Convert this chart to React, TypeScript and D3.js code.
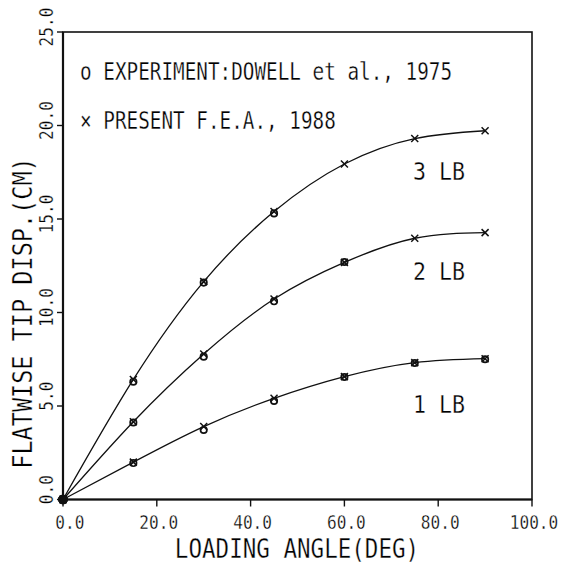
import React from 'react';
import * as d3 from 'd3';

// loading angle (deg) for the F.E.A. curves
const angles = [0, 15, 30, 45, 60, 75, 90];
const fea1lb = [0, 2.0, 3.9, 5.41, 6.57, 7.32, 7.53];
const fea2lb = [0, 4.16, 7.78, 10.72, 12.68, 13.97, 14.27];
const fea3lb = [0, 6.42, 11.65, 15.4, 17.94, 19.3, 19.72];

// experiment (Dowell et al.)
const expAngles1 = [0, 15, 30, 45, 60, 75, 90];
const exp1lb = [0, 1.95, 3.72, 5.27, 6.55, 7.3, 7.5];
const expAngles2 = [0, 15, 30, 45, 60];
const exp2lb = [0, 4.12, 7.64, 10.6, 12.7];
const expAngles3 = [0, 15, 30, 45];
const exp3lb = [0, 6.3, 11.6, 15.3];

const curveLabels = ['1 LB', '2 LB', '3 LB'];
const labelAt = [4.63, 11.74, 17.08]; // y value of the label baseline
const xTicks = [0, 20, 40, 60, 80, 100];
const yTicks = [0, 5, 10, 15, 20, 25];
const legendLines = ['o EXPERIMENT:DOWELL et al., 1975', '\u00d7 PRESENT F.E.A., 1988'];

const FONT = '"DejaVu Sans Mono", monospace';

// plotter-style text: monospace squeezed horizontally, stretched up a little
const PText: React.FC<{ x: number; y: number; size: number; sx: number; sy?: number; rotate?: number; anchor?: string; children: string }> = ({ x, y, size, sx, sy = 1, rotate = 0, anchor = 'start', children }) => (
  <text
    transform={`translate(${x},${y}) rotate(${rotate}) scale(${sx},${sy})`}
    fontFamily={FONT}
    fontSize={size}
    textAnchor={anchor}
    fill="#000"
    stroke="#fff"
    strokeWidth={0.3}
    style={{ whiteSpace: 'pre' }}
  >
    {children}
  </text>
);

const App: React.FC = () => {
  const width = 561;
  const height = 568;
  const x = d3.scaleLinear().domain([0, 100]).range([63, 532]);
  const y = d3.scaleLinear().domain([0, 25]).range([499.5, 32]);

  const line = d3.line<[number, number]>()
    .x(d => x(d[0]))
    .y(d => y(d[1]))
    .curve(d3.curveNatural);

  const feaSeries = [fea1lb, fea2lb, fea3lb];
  const expSeries: [number[], number[]][] = [[expAngles1, exp1lb], [expAngles2, exp2lb], [expAngles3, exp3lb]];

  const pad = (s: string) => (s.length < 4 ? '\u00a0'.repeat(4 - s.length) + s : s);

  return (
    <svg width={width} height={height} style={{ display: 'block', position: 'absolute', left: 0, top: 0, background: '#fff' }}>
      {/* frame */}
      <rect x={x(0)} y={y(25)} width={x(100) - x(0)} height={y(0) - y(25)} fill="none" stroke="#111" strokeWidth={1.6} />
      <line x1={x(0)} x2={x(0)} y1={y(0)} y2={y(25)} stroke="#111" strokeWidth={2.2} />
      <line x1={x(0)} x2={x(100)} y1={y(0)} y2={y(0)} stroke="#111" strokeWidth={2.2} />

      {/* x ticks */}
      {xTicks.map(t => (
        <g key={'x' + t}>
          <line x1={x(t)} x2={x(t)} y1={y(0)} y2={y(0) + 7} stroke="#111" strokeWidth={1.4} />
          <PText x={x(t) + 2} y={y(0) + 29} size={17} sx={0.95} sy={1.15} anchor="middle">{pad(t.toFixed(1))}</PText>
        </g>
      ))}
      {/* y ticks */}
      {yTicks.map(t => (
        <g key={'y' + t}>
          <line x1={x(0) - 6} x2={x(0)} y1={y(t)} y2={y(t)} stroke="#111" strokeWidth={1.4} />
          <PText x={53} y={y(t) - 5} size={17} sx={0.95} sy={1.15} rotate={-90} anchor="middle">{pad(t.toFixed(1))}</PText>
        </g>
      ))}

      {/* axis titles */}
      <PText x={297} y={558} size={24} sx={0.94} sy={1.12} anchor="middle">LOADING ANGLE(DEG)</PText>
      <PText x={32} y={313} size={24} sx={0.98} sy={1.12} rotate={-90} anchor="middle">FLATWISE TIP DISP.(CM)</PText>

      {/* legend */}
      {legendLines.map((s, i) => (
        <PText key={s} x={80} y={80 + i * 49} size={23} sx={0.84} sy={1.1}>{s}</PText>
      ))}

      {/* F.E.A. curves */}
      {feaSeries.map((vals, i) => (
        <path key={'c' + i} d={line(angles.map((a, j) => [a, vals[j]] as [number, number])) || ''} fill="none" stroke="#111" strokeWidth={1.3} />
      ))}
      {feaSeries.map((vals, i) =>
        angles.map((a, j) => (
          <g key={`m${i}-${j}`} stroke="#111" strokeWidth={1.5}>
            <line x1={x(a) - 3.5} x2={x(a) + 3.5} y1={y(vals[j]) - 3.5} y2={y(vals[j]) + 3.5} />
            <line x1={x(a) - 3.5} x2={x(a) + 3.5} y1={y(vals[j]) + 3.5} y2={y(vals[j]) - 3.5} />
          </g>
        ))
      )}

      {/* experiment circles */}
      {expSeries.map(([as, vs], i) =>
        as.map((a, j) => (
          <circle key={`e${i}-${j}`} cx={x(a)} cy={y(vs[j])} r={a === 0 ? 4 : 3.2} fill={a === 0 ? '#111' : 'none'} stroke="#111" strokeWidth={1.7} />
        ))
      )}

      {/* load labels */}
      {curveLabels.map((s, i) => (
        <PText key={s} x={413} y={y(labelAt[i])} size={24} sx={0.9} sy={1.05}>{s}</PText>
      ))}
    </svg>
  );
};

export default App;
